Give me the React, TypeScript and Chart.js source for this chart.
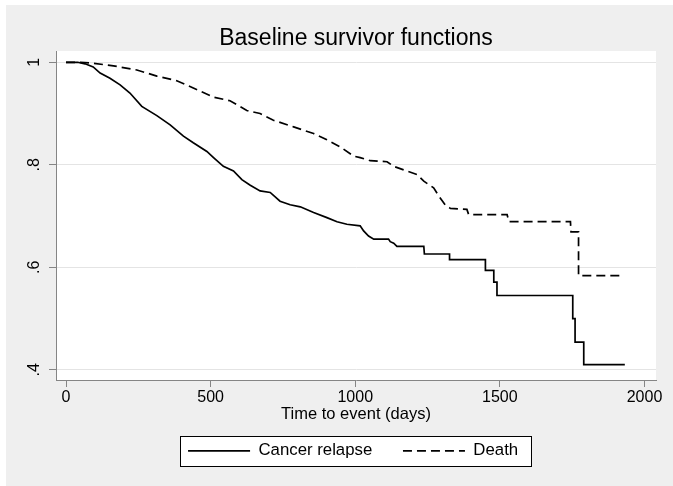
import React, { useEffect, useRef } from 'react';
import { Chart, registerables } from 'chart.js';

Chart.register(...registerables);

const FONT = "'Liberation Sans', Arial, sans-serif";

const titleText = 'Baseline survivor functions';
const xAxisTitle = 'Time to event (days)';
const seriesNames = ['Cancer relapse', 'Death'];

const xTickValues = [0, 500, 1000, 1500, 2000];
const yTickValues = [0.4, 0.6, 0.8, 1];
const yTickLabels = ['.4', '.6', '.8', '1'];

// Cancer relapse survivor curve: vertices (time in days, survivor value)
const relapseTimes = [
  0, 40, 66, 94, 118, 152, 187, 221, 262, 314, 360, 406, 440, 487, 510, 544, 579, 608, 637, 671,
  706, 740, 775, 810, 856, 902, 937, 971, 1017, 1029, 1046, 1064, 1115, 1121, 1133, 1144, 1237, 1239, 1326, 1326,
  1450, 1450, 1479, 1479, 1490, 1490, 1752, 1752, 1760, 1760, 1790, 1790, 1932,
];
const relapseSurv = [
  1.0, 1.0, 0.997, 0.991, 0.979, 0.969, 0.956, 0.94, 0.914, 0.896, 0.878, 0.856, 0.843, 0.826, 0.814, 0.797, 0.788, 0.771, 0.76, 0.749,
  0.746, 0.729, 0.722, 0.718, 0.707, 0.697, 0.689, 0.684, 0.681, 0.671, 0.661, 0.655, 0.655, 0.65, 0.647, 0.641, 0.641, 0.626, 0.626, 0.615,
  0.615, 0.594, 0.594, 0.571, 0.571, 0.545, 0.545, 0.5, 0.5, 0.454, 0.454, 0.41, 0.41,
];

// Death survivor curve: vertices (time in days, survivor value)
const deathTimes = [
  0, 50, 94, 164, 245, 314, 383, 440, 510, 567, 625, 671, 717, 787, 856, 902, 948, 994, 1017, 1052,
  1110, 1133, 1168, 1214, 1237, 1271, 1289, 1312, 1329, 1386, 1392, 1525, 1531, 1744, 1746, 1772, 1772, 1928,
];
const deathSurv = [
  1.0, 1.0, 0.998, 0.993, 0.985, 0.973, 0.964, 0.95, 0.932, 0.925, 0.906, 0.9, 0.887, 0.874, 0.861, 0.849, 0.835, 0.817, 0.814, 0.808,
  0.806, 0.797, 0.79, 0.781, 0.768, 0.755, 0.739, 0.721, 0.715, 0.713, 0.703, 0.703, 0.689, 0.689, 0.669, 0.669, 0.584, 0.584,
];

const stataPlugin = {
  id: 'stataBackground',
  beforeDraw(chart: any) {
    const { ctx, chartArea, width, height } = chart;
    ctx.save();
    ctx.fillStyle = '#efefef';
    ctx.fillRect(0, 0, width, height);
    ctx.fillStyle = '#ffffff';
    ctx.fillRect(chartArea.left, chartArea.top, chartArea.right - chartArea.left, chartArea.bottom - chartArea.top);
    const legend = chart.legend;
    if (legend && legend.legendHitBoxes && legend.legendHitBoxes.length) {
      const boxes = legend.legendHitBoxes;
      const first = boxes[0];
      const last = boxes[boxes.length - 1];
      const cy = first.top + first.height / 2;
      const l = Math.round(first.left - 8) + 0.5;
      const r = Math.round(last.left + last.width + 13) + 0.5;
      const t = Math.round(cy - 15) + 0.5;
      const b = Math.round(cy + 15) + 0.5;
      ctx.fillStyle = '#ffffff';
      ctx.fillRect(l, t, r - l, b - t);
      ctx.strokeStyle = '#000000';
      ctx.lineWidth = 1;
      ctx.strokeRect(l, t, r - l, b - t);
    }
    ctx.restore();
  },
};

export default function App() {
  const canvasRef = useRef<HTMLCanvasElement | null>(null);

  useEffect(() => {
    if (!canvasRef.current) return;
    const axisGray = '#858585';
    const chart = new Chart(canvasRef.current, {
      type: 'line',
      data: {
        datasets: [
          {
            label: seriesNames[0],
            data: relapseTimes.map((t, i) => ({ x: t, y: relapseSurv[i] })),
            borderColor: '#000000',
            backgroundColor: '#000000',
            borderWidth: 1.7,
            borderDash: [],
            tension: 0,
            pointRadius: 0,
            fill: false,
            yAxisID: 'y',
          },
          {
            label: seriesNames[1],
            data: deathTimes.map((t, i) => ({ x: t, y: deathSurv[i] })),
            borderColor: '#000000',
            backgroundColor: '#000000',
            borderWidth: 1.7,
            borderDash: [9, 5],
            tension: 0,
            pointRadius: 0,
            fill: false,
            yAxisID: 'y',
          },
        ],
      },
      options: {
        responsive: false,
        animation: false,
        devicePixelRatio: 1,
        layout: { padding: { left: 15, right: -12.2, top: 0, bottom: 16.8 } },
        plugins: {
          title: {
            display: true,
            fullSize: false,
            text: titleText,
            color: '#000000',
            font: { family: FONT, size: 23, weight: 'normal' },
            padding: { top: 19.7, bottom: -1.3 },
          },
          legend: {
            display: true,
            position: 'bottom',
            align: 'center',
            labels: {
              usePointStyle: true,
              pointStyle: 'line',
              pointStyleWidth: 62,
              padding: 30.7,
              color: '#000000',
              font: { family: FONT, size: 16.8 },
              generateLabels: (c: any) =>
                c.data.datasets.map((ds: any, i: number) => ({
                  text: ds.label,
                  fillStyle: 'rgba(0,0,0,0)',
                  strokeStyle: ds.borderColor,
                  lineWidth: ds.borderWidth,
                  lineDash: ds.borderDash || [],
                  lineCap: 'butt',
                  pointStyle: 'line',
                  hidden: false,
                  fontColor: '#000000',
                  datasetIndex: i,
                })),
            },
          },
          tooltip: { enabled: false },
        },
        scales: {
          x: {
            type: 'linear',
            min: -34.6,
            max: 2039.8,
            afterBuildTicks: (s: any) => {
              s.ticks = xTickValues.map((v) => ({ value: v }));
            },
            afterFit: (s: any) => {
              s.height = 31.7;
            },
            grid: { display: true, drawOnChartArea: false, drawTicks: true, tickLength: 7, tickColor: axisGray, tickWidth: 1 },
            border: { display: true, color: axisGray, width: 1 },
            ticks: {
              padding: 1,
              color: '#000000',
              font: { family: FONT, size: 16 },
              maxRotation: 0,
              autoSkip: false,
              callback: (v: any) => String(v),
            },
            title: {
              display: true,
              text: xAxisTitle,
              color: '#000000',
              font: { family: FONT, size: 16.5 },
              padding: { top: 0, bottom: -12.4 },
            },
          },
          y: {
            type: 'linear',
            position: 'left',
            min: 0.3802,
            max: 1.022,
            afterBuildTicks: (s: any) => {
              s.ticks = yTickValues.map((v) => ({ value: v }));
            },
            afterFit: (s: any) => {
              s.width = 35;
            },
            grid: { display: true, drawOnChartArea: true, color: '#e4e4e4', lineWidth: 1, drawTicks: true, tickLength: 7, tickColor: axisGray, tickWidth: 1 },
            border: { display: true, color: axisGray, width: 1 },
            ticks: {
              minRotation: 90,
              maxRotation: 90,
              crossAlign: 'center',
              padding: 8,
              color: '#000000',
              font: { family: FONT, size: 16 },
              autoSkip: false,
              callback: (v: any) => {
                const idx = yTickValues.findIndex((t) => Math.abs(t - Number(v)) < 1e-9);
                return idx >= 0 ? yTickLabels[idx] : '';
              },
            },
          },
          yRightSpace: {
            type: 'linear',
            position: 'right',
            display: true,
            min: 0,
            max: 1,
            afterFit: (s: any) => {
              s.width = 29.2;
            },
            grid: { display: false, drawTicks: false },
            border: { display: false },
            ticks: { display: false },
          },
        },
      } as any,
      plugins: [stataPlugin],
    });
    return () => chart.destroy();
  }, []);

  return (
    <div style={{ position: 'absolute', left: 6, top: 5, width: 667, height: 481, background: '#efefef' }}>
      <canvas ref={canvasRef} width={667} height={481} style={{ display: 'block', width: 667, height: 481 }} />
    </div>
  );
}
